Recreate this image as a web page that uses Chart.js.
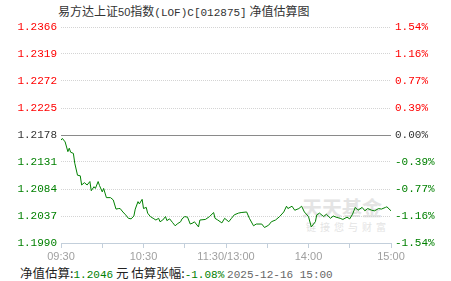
<!DOCTYPE html>
<html>
<head>
<meta charset="utf-8">
<script src="https://cdn.jsdelivr.net/npm/chart.js@4.4.1/dist/chart.umd.min.js"></script>
<style>
html, body { margin: 0; padding: 0; background: #fff; }
#wrap { position: relative; width: 451px; height: 281px; overflow: hidden; }
#chart { position: absolute; left: 0; top: 0; z-index: 2; }
#titulo { position: absolute; left: 58px; top: 2px; font: 12px "Noto Sans CJK SC"; color: #333; white-space: nowrap; }
.mono { font-family: "Liberation Mono", monospace; font-size: 11px; }
.sans { font-family: "Liberation Sans"; font-size: 11px; }
#pie { position: absolute; left: 20px; top: 263px; font: 12.5px "Noto Sans CJK SC"; color: #222; white-space: nowrap; }
.verde { color: #008000; }
.gris { color: #666; }
#marca { position: absolute; left: 302px; top: 193px; font: bold 20px "Noto Sans CJK SC"; color: #e4e4e4; z-index: 1; white-space: nowrap; }
#marca2 { position: absolute; left: 306px; top: 219px; font: 10px "Noto Sans CJK SC"; color: #e4e4e4; letter-spacing: 4px; z-index: 1; white-space: nowrap; }
</style>
</head>
<body>
<div id="wrap">
    <div id="titulo">易方达上证<span class="sans">50</span>指数<span class="mono">(LOF)C[012875]</span> 净值估算图</div>
    <div id="marca">天天基金</div>
    <div id="marca2">链接您与财富</div>
    <canvas id="chart" width="451" height="281"></canvas>
    <div id="pie">净值估算:<span class="mono verde">1.2046</span> 元 估算张幅:<span class="mono verde">-1.08%</span> <span class="mono gris">2025-12-16 15:00</span></div>
</div>
<script>
// minutos desde las 09:30 (11:30/13:00 se juntan en el minuto 120)
const minutos = [0,1,3,5,6,7,9,10,12,14,15,17,19,21,22,24,25,27,28,30,
    31,33,36,38,40,42,43,45,47,49,51,53,54,56,57,59,60,62,63,65,
    67,69,71,72,74,76,77,79,81,83,85,87,88,90,92,94,96,97,100,101,
    105,108,111,112,114,117,119,122,124,126,129,131,135,137,140,142,146,148,151,153,
    156,159,162,164,165,168,170,173,175,177,180,182,185,186,188,191,193,196,198,200,
    203,205,208,210,212,214,216,219,221,223,226,228,231,233,236,237,240];

const valores = [1.2169,1.2172,1.2166,1.2149,1.2155,1.2148,1.2146,1.2129,1.2108,1.2107,
    1.2091,1.2095,1.2091,1.2097,1.2081,1.2088,1.2085,1.2097,1.2090,1.2079,
    1.2085,1.2069,1.2069,1.2065,1.2049,1.2050,1.2050,1.2044,1.2039,1.2033,
    1.2032,1.2037,1.2049,1.2062,1.2058,1.2066,1.2050,1.2052,1.2042,1.2036,
    1.2033,1.2030,1.2033,1.2027,1.2030,1.2036,1.2029,1.2032,1.2026,1.2020,
    1.2024,1.2027,1.2032,1.2036,1.2035,1.2023,1.2025,1.2027,1.2018,1.2030,
    1.2031,1.2036,1.2043,1.2033,1.2030,1.2025,1.2033,1.2027,1.2033,1.2039,
    1.2042,1.2043,1.2044,1.2033,1.2020,1.2023,1.2023,1.2017,1.2021,1.2027,
    1.2030,1.2036,1.2044,1.2054,1.2050,1.2054,1.2047,1.2050,1.2054,1.2044,
    1.2036,1.2018,1.2027,1.2039,1.2042,1.2036,1.2040,1.2033,1.2037,1.2035,
    1.2033,1.2031,1.2035,1.2032,1.2040,1.2052,1.2047,1.2052,1.2046,1.2050,
    1.2047,1.2046,1.2050,1.2049,1.2052,1.2053,1.2046];

const navBase = 1.2178;
const navTicks = [1.1990, 1.2037, 1.2084, 1.2131, 1.2178, 1.2225, 1.2272, 1.2319, 1.2366];
const navLabels = ['1.1990', '1.2037', '1.2084', '1.2131', '1.2178', '1.2225', '1.2272', '1.2319', '1.2366'];
const pctLabels = ['-1.54%', '-1.16%', '-0.77%', '-0.39%', '0.00%', '0.39%', '0.77%', '1.16%', '1.54%'];
const xTicks = [0, 30, 60, 90, 120, 150, 180, 210, 240];
const xLabels = ['09:30', '', '10:30', '', '11:30/13:00', '', '14:00', '', '15:00'];

function colorTick(ctx) {
    const i = ctx.index;
    if (i < 4) return '#008000';
    if (i === 4) return '#333';
    return '#ff0000';
}

// linea del 0.00% (valor de referencia)
const lineaCero = {
    id: 'lineaCero',
    beforeDatasetsDraw(chart) {
        const { ctx, chartArea, scales } = chart;
        const y = Math.round(scales.y.getPixelForValue(navBase)) + 0.5;
        ctx.save();
        ctx.strokeStyle = '#8a8a8a';
        ctx.lineWidth = 1;
        ctx.beginPath();
        ctx.moveTo(chartArea.left, y);
        ctx.lineTo(chartArea.right, y);
        ctx.stroke();
        ctx.restore();
    }
};

const puntos = minutos.map((m, i) => ({ x: m, y: valores[i] }));

new Chart(document.getElementById('chart').getContext('2d'), {
    type: 'line',
    data: {
        datasets: [{
            data: puntos,
            borderColor: '#008000',
            borderWidth: 1,
            pointRadius: 0,
            tension: 0,
            fill: false
        }]
    },
    options: {
        responsive: false,
        animation: false,
        events: [],
        layout: { padding: { top: 27, left: 0, right: 0, bottom: 0 } },
        plugins: { legend: { display: false }, title: { display: false }, tooltip: { enabled: false } },
        scales: {
            x: {
                type: 'linear',
                min: 0,
                max: 240,
                afterBuildTicks: s => { s.ticks = xTicks.map(v => ({ value: v })); },
                afterFit: s => { s.height = 38; },
                ticks: {
                    autoSkip: false,
                    maxRotation: 0,
                    padding: 2,
                    color: '#a0a0a0',
                    font: { family: 'Liberation Sans', size: 11 },
                    callback: (v, i) => xLabels[i]
                },
                grid: { drawOnChartArea: false, drawTicks: true, tickLength: 5, color: '#c3cfdb' },
                border: { display: true, color: '#c3cfdb', width: 1 }
            },
            y: {
                position: 'left',
                min: navTicks[0],
                max: navTicks[navTicks.length - 1],
                afterBuildTicks: s => { s.ticks = navTicks.map(v => ({ value: v })); },
                afterFit: s => { s.width = 61; },
                ticks: {
                    padding: 4,
                    color: colorTick,
                    font: { family: 'Liberation Mono', size: 11 },
                    callback: (v, i) => navLabels[i]
                },
                grid: { color: '#d4d4d4', drawTicks: false },
                border: { display: false, dash: [1, 1] }
            },
            y2: {
                position: 'right',
                min: navTicks[0],
                max: navTicks[navTicks.length - 1],
                afterBuildTicks: s => { s.ticks = navTicks.map(v => ({ value: v })); },
                afterFit: s => { s.width = 60; },
                ticks: {
                    padding: 4,
                    color: colorTick,
                    font: { family: 'Liberation Mono', size: 11 },
                    callback: (v, i) => pctLabels[i]
                },
                grid: { display: false, drawTicks: false },
                border: { display: false }
            }
        }
    },
    plugins: [lineaCero]
});
</script>
</body>
</html>
